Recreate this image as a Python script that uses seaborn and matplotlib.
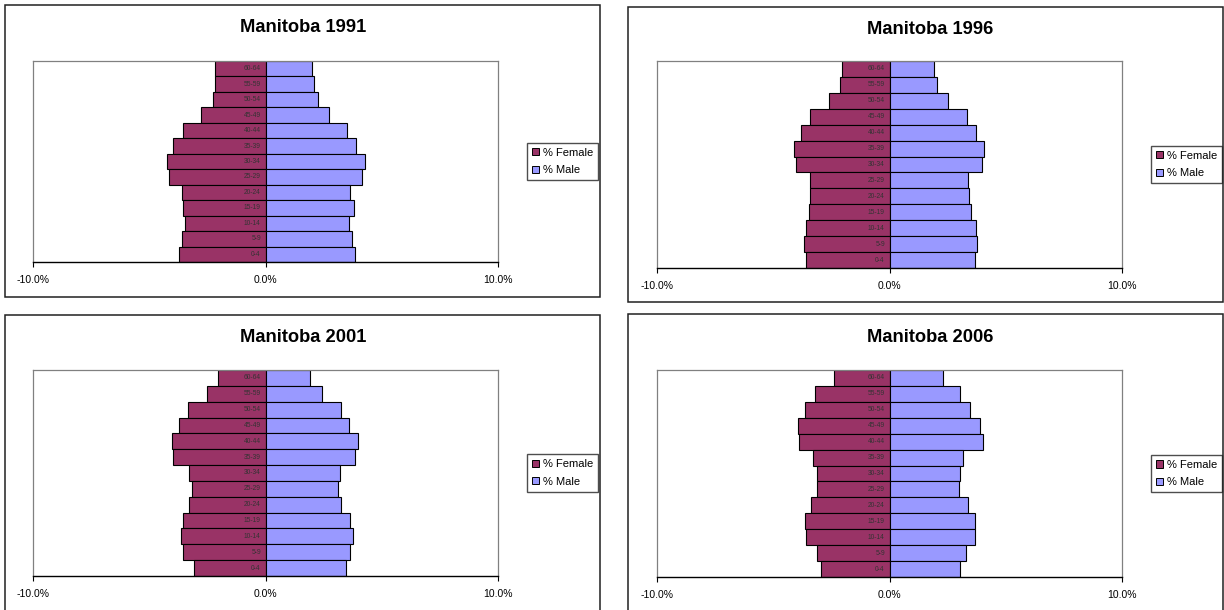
import numpy as np
import pandas as pd
import seaborn as sns
import matplotlib.pyplot as plt
from matplotlib.patches import Rectangle, Patch

# age groups, youngest first
ages = ["0-4", "5-9", "10-14", "15-19", "20-24", "25-29", "30-34",
        "35-39", "40-44", "45-49", "50-54", "55-59", "60-64"]
years = ["1991", "1996", "2001", "2006"]

# percent of population
female_1991 = [3.73, 3.61, 3.48, 3.56, 3.61, 4.16, 4.24, 3.96, 3.56, 2.76, 2.27, 2.16, 2.19]
male_1991 = [3.83, 3.74, 3.59, 3.79, 3.63, 4.16, 4.26, 3.88, 3.51, 2.72, 2.24, 2.07, 1.99]

female_1996 = [3.57, 3.66, 3.57, 3.47, 3.42, 3.42, 4.02, 4.12, 3.82, 3.42, 2.59, 2.14, 2.03]
male_1996 = [3.69, 3.77, 3.72, 3.52, 3.44, 3.36, 3.96, 4.06, 3.72, 3.32, 2.53, 2.06, 1.90]

female_2001 = [3.09, 3.54, 3.64, 3.54, 3.29, 3.15, 3.29, 3.98, 4.03, 3.74, 3.34, 2.52, 2.06]
male_2001 = [3.47, 3.64, 3.76, 3.64, 3.24, 3.10, 3.20, 3.84, 3.98, 3.61, 3.24, 2.42, 1.91]

female_2006 = [2.93, 3.13, 3.57, 3.62, 3.37, 3.13, 3.13, 3.28, 3.89, 3.94, 3.62, 3.19, 2.38]
male_2006 = [3.03, 3.28, 3.69, 3.69, 3.36, 2.99, 3.03, 3.14, 4.01, 3.89, 3.47, 3.03, 2.31]

female_by_year = [female_1991, female_1996, female_2001, female_2006]
male_by_year = [male_1991, male_1996, male_2001, male_2006]

FEMALE_COL = "#993366"
MALE_COL = "#9999FF"

sns.set_style("white")
plt.rcParams["font.family"] = ["Liberation Sans", "DejaVu Sans"]
plt.rcParams["text.color"] = "black"
plt.rcParams["xtick.color"] = "black"

W, H = 1224, 610
fig = plt.figure(figsize=(W / 100, H / 100), dpi=100)

# pixel boxes: panel frame, plot area, title centre
frames = [(5, 5, 600, 297), (628, 7, 1223, 302), (5, 315, 600, 620), (628, 314, 1223, 620)]
plot_areas = [(33, 61, 498, 262), (657, 61, 1122, 268), (33, 370, 498, 576), (657, 370, 1122, 577)]
title_pos = [(303, 28), (930, 29), (303, 338), (930, 338)]

for k, year in enumerate(years):
    fx0, fy0, fx1, fy1 = frames[k]
    fig.add_artist(Rectangle((fx0 / W, 1 - fy1 / H), (fx1 - fx0) / W, (fy1 - fy0) / H,
                             transform=fig.transFigure, fill=False,
                             edgecolor="#202020", linewidth=1.1))

    x0, y0, x1, y1 = plot_areas[k]
    ax = fig.add_axes([x0 / W, 1 - y1 / H, (x1 - x0) / W, (y1 - y0) / H])

    df = pd.DataFrame({
        "age": ages * 2,
        "sex": ["% Female"] * len(ages) + ["% Male"] * len(ages),
        "pct": [-v for v in female_by_year[k]] + list(male_by_year[k]),
    })
    sns.barplot(data=df, x="pct", y="age", hue="sex", order=ages[::-1],
                hue_order=["% Female", "% Male"],
                palette={"% Female": FEMALE_COL, "% Male": MALE_COL},
                dodge=False, width=1.0, orient="h", saturation=1,
                errorbar=None, edgecolor="black", linewidth=0.8,
                legend=False, ax=ax)

    ax.set_xlim(-10, 10)
    ax.set_ylim(len(ages) - 0.5, -0.5)
    ax.set_xticks([-10, 0, 10])
    ax.set_xticklabels(["-10.0%", "0.0%", "10.0%"])
    ax.set_yticks([])
    ax.set_xlabel("")
    ax.set_ylabel("")
    ax.tick_params(axis="x", direction="out", length=3.5, width=0.8,
                   color="black", labelcolor="black", labelsize=7.5, pad=6, bottom=True)
    for side in ["left", "top", "right"]:
        ax.spines[side].set_color("#808080")
        ax.spines[side].set_linewidth(0.9)
    ax.spines["bottom"].set_color("black")
    ax.spines["bottom"].set_linewidth(1.0)

    for i, a in enumerate(ages[::-1]):
        ax.text(-0.2, i, a, ha="right", va="center", fontsize=4.8, color="#333333")

    tx, ty = title_pos[k]
    fig.text(tx / W, 1 - ty / H, "Manitoba " + year, ha="center", va="center",
             fontsize=13.2, fontweight="bold", color="black")

    handles = [Patch(facecolor=FEMALE_COL, edgecolor="black", linewidth=0.7),
               Patch(facecolor=MALE_COL, edgecolor="black", linewidth=0.7)]
    leg = ax.legend(handles, ["% Female", "% Male"], loc="center left",
                    bbox_to_anchor=(1.063, 0.5), frameon=True, fancybox=False,
                    edgecolor="#222222", fontsize=8, handlelength=0.6,
                    handleheight=0.6, handletextpad=0.35, borderpad=0.45,
                    labelspacing=0.65, borderaxespad=0)
    leg.get_frame().set_linewidth(1.0)
    for t in leg.get_texts():
        t.set_color("black")

fig.savefig("out.png", dpi=100)
